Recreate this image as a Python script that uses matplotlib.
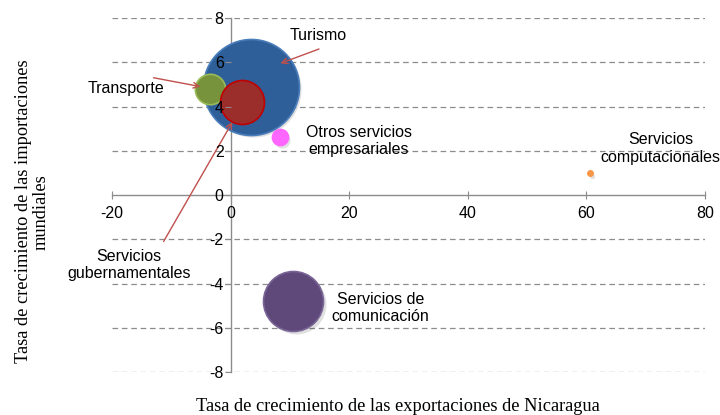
import numpy as np
import matplotlib
matplotlib.use("Agg")
from matplotlib import pyplot as plt

# datos
sectores = ["Turismo", "Transporte", "Servicios gubernamentales",
            "Otros servicios empresariales", "Servicios computacionales",
            "Servicios de comunicación"]
export_x = [3.4, -3.4, 2.0, 8.3, 60.6, 10.6]
import_y = [4.9, 4.8, 4.2, 2.6, 1.0, -4.8]
tamano = [100, 10, 21, 2.8, 0.3, 39]

colores = ["#2F5F98", "#77933C", "#9B2D2A", "#FF66FF", "#F79646", "#5F497A"]
bordes = ["#4A7EBB", "#9BBB59", "#C00000", "#FF66FF", "#F79646", "#7B6496"]

plt.rcParams['font.family'] = ['Liberation Sans', 'DejaVu Sans']
plt.rcParams['axes.unicode_minus'] = False

fig = plt.figure(figsize=(7.2, 4.15), dpi=100)
ax = fig.add_axes([0.1556, 0.1036, 0.8236, 0.853])

escala = 47.8
for i in range(len(sectores)):
    s = tamano[i] * escala
    # sombra
    ax.scatter(export_x[i] + 0.35, import_y[i] - 0.12, s=s, color="#000000",
               alpha=0.12, linewidths=0, zorder=2)
    ax.scatter(export_x[i], import_y[i], s=s, color=colores[i],
               edgecolors=bordes[i], linewidths=1.2, zorder=3)

ax.set_xlim(-20, 80)
ax.set_ylim(-8, 8)
ax.set_xticks(np.arange(-20, 81, 20))
ax.set_yticks(np.arange(-8, 9, 2))

for yv in np.arange(-8, 9, 2):
    if yv != 0:
        ax.axhline(yv, color="#8C8C8C", lw=0.9, ls=(0, (4.5, 3)), zorder=1)

for lado in ["top", "right"]:
    ax.spines[lado].set_visible(False)
ax.spines["left"].set_position(("data", 0))
ax.spines["bottom"].set_position(("data", 0))
for lado in ["left", "bottom"]:
    ax.spines[lado].set_color("#8C8C8C")
    ax.spines[lado].set_linewidth(1.0)
    ax.spines[lado].set_zorder(1.5)
ax.tick_params(axis="x", direction="inout", length=6, color="#8C8C8C",
               labelsize=11.5, pad=5)
ax.tick_params(axis="y", direction="out", length=4, color="#8C8C8C",
               labelsize=11.5, pad=1)
ax.xaxis.set_zorder(6)
ax.yaxis.set_zorder(6)
ax.patch.set_alpha(0)

fs = 11.5
flecha = dict(arrowstyle="->", color="#C0504D", lw=1.0, shrinkA=0, shrinkB=0)
ax.text(14.7, 7.2, "Turismo", ha="center", va="center", fontsize=fs, zorder=5)
ax.annotate("", xy=(8.4, 5.95), xytext=(14.9, 6.6), arrowprops=flecha, zorder=5)
ax.text(-17.7, 4.8, "Transporte", ha="center", va="center", fontsize=fs, zorder=5)
ax.annotate("", xy=(-5.1, 4.9), xytext=(-13, 5.3), arrowprops=flecha, zorder=5)
ax.text(-17.2, -3.15, "Servicios\ngubernamentales", ha="center", va="center",
        fontsize=fs, zorder=5)
ax.annotate("", xy=(0.3, 3.3), xytext=(-11.3, -2.1), arrowprops=flecha, zorder=5)
ax.text(21.6, 2.45, "Otros servicios\nempresariales", ha="center", va="center",
        fontsize=fs, zorder=5)
ax.text(72.5, 2.1, "Servicios\ncomputacionales", ha="center", va="center",
        fontsize=fs, zorder=5)
ax.text(25.3, -5.1, "Servicios de\ncomunicación", ha="center", va="center",
        fontsize=fs, zorder=5)

fig.text(0.045, 0.49, "Tasa de crecimiento de las importaciones\nmundiales",
         rotation=90, ha="center", va="center", fontsize=13.2,
         family="Liberation Serif", linespacing=1.1)
fig.text(0.553, 0.02, "Tasa de crecimiento de las exportaciones de Nicaragua",
         ha="center", va="center", fontsize=13.2, family="Liberation Serif")

fig.savefig("out.png", dpi=100)
